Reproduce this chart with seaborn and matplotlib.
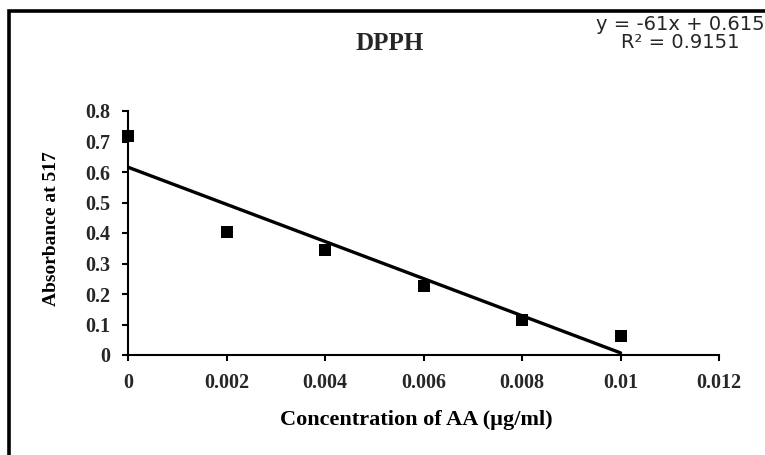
import matplotlib
matplotlib.use("Agg")
import matplotlib.pyplot as plt
from matplotlib.patches import Rectangle
import numpy as np
import pandas as pd
import seaborn as sns

# data
conc = [0, 0.002, 0.004, 0.006, 0.008, 0.01]
absorbance = [0.718, 0.402, 0.344, 0.226, 0.115, 0.062]
x_ticks = [0, 0.002, 0.004, 0.006, 0.008, 0.01, 0.012]
x_labels = ["0", "0.002", "0.004", "0.006", "0.008", "0.01", "0.012"]
y_ticks = [0, 0.1, 0.2, 0.3, 0.4, 0.5, 0.6, 0.7, 0.8]
y_labels = ["0", "0.1", "0.2", "0.3", "0.4", "0.5", "0.6", "0.7", "0.8"]
eq_line = "y = -61x + 0.615"
r2_line = "R² = 0.9151"

df = pd.DataFrame({"conc": conc, "abs": absorbance})

sns.set_theme(style="white")
serif = ["Liberation Serif", "DejaVu Serif"]

fig = plt.figure(figsize=(7.65, 4.55), dpi=100)
ax = fig.add_axes([128.3 / 765, 100 / 455, 590.7 / 765, 244 / 455])

sns.regplot(data=df, x="conc", y="abs", ax=ax, ci=None, marker="s",
            scatter_kws={"s": 85, "color": "black", "alpha": 1, "linewidths": 0,
                         "zorder": 3, "clip_on": False},
            line_kws={"color": "black", "lw": 2.4, "zorder": 2})

ax.set_xlim(0, 0.012)
ax.set_ylim(0, 0.8)
ax.set_xticks(x_ticks)
ax.set_xticklabels(x_labels)
ax.set_yticks(y_ticks)
ax.set_yticklabels(y_labels)
for lab in ax.get_xticklabels() + ax.get_yticklabels():
    lab.set_family(serif)
    lab.set_fontweight("bold")
    lab.set_fontsize(14.5)
ax.tick_params(axis="both", direction="out", length=4, width=1.5, color="black",
               bottom=True, left=True)
ax.tick_params(axis="y", pad=9)
ax.tick_params(axis="x", pad=9)

sns.despine(ax=ax)
for side in ["left", "bottom"]:
    ax.spines[side].set_color("black")
    ax.spines[side].set_linewidth(1.5)

ax.set_xlabel("Concentration of AA (µg/ml)", family=serif, fontweight="bold",
              fontsize=16, color="black")
ax.xaxis.set_label_coords(0.487, -0.225)
ax.set_ylabel("Absorbance at 517", family=serif, fontweight="bold",
              fontsize=14, color="black")
ax.yaxis.set_label_coords(-0.115, 0.516)

fig.text(390 / 765, 1 - 43 / 455, "DPPH", family=serif, fontweight="bold",
         fontsize=18, ha="center", va="center")
fig.text(680 / 765, 1 - 25 / 455, eq_line, family=["DejaVu Sans"],
         fontsize=14, ha="center", va="center")
fig.text(680 / 765, 1 - 43 / 455, r2_line, family=["DejaVu Sans"],
         fontsize=14, ha="center", va="center")

# outer frame of the chart area, right and bottom edges fall outside the image
fig.patches.append(Rectangle((9 / 765, -0.2), 1.2, 1 - 11 / 455 + 0.2,
                             transform=fig.transFigure, fill=False,
                             edgecolor="black", lw=2.6))

fig.savefig("out.png", dpi=100)
